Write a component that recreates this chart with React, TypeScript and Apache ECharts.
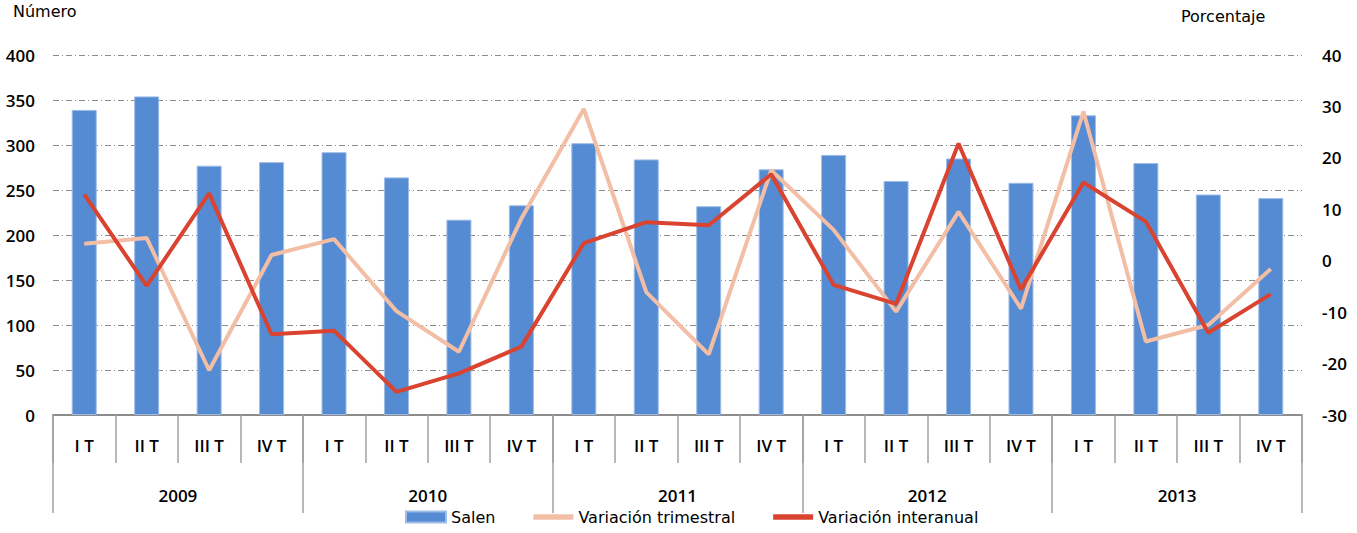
import React, { useEffect, useRef } from "react";
import * as echarts from "echarts";

const quarters = ["I T", "II T", "III T", "IV T", "I T", "II T", "III T", "IV T", "I T", "II T", "III T", "IV T", "I T", "II T", "III T", "IV T", "I T", "II T", "III T", "IV T"];
const years = ["2009", "2010", "2011", "2012", "2013"];
const salen = [339, 354, 277, 281, 292, 264, 217, 233, 302, 284, 232, 273, 289, 260, 285, 258, 333, 280, 245, 241];
const varTrimestral = [3.3, 4.4, -21.3, 1.1, 4.2, -9.8, -17.7, 8.2, 29.5, -6.1, -18.2, 17.6, 6.0, -9.9, 9.5, -9.3, 29.0, -15.7, -12.5, -1.6];
const varInteranual = [12.9, -4.9, 13.1, -14.3, -13.6, -25.5, -21.9, -16.7, 3.4, 7.5, 6.9, 16.8, -4.7, -8.4, 22.8, -5.6, 15.2, 7.6, -14.0, -6.5];

const FONT = "'Open Sans', sans-serif";
const SANS = "'DejaVu Sans', Arial, sans-serif";
const LINE_ICON = "path://M0,0 H42 V6 H0 Z";

export default function App() {
  const ref = useRef<HTMLDivElement>(null);
  useEffect(() => {
    if (!ref.current) return;
    const chart = echarts.init(ref.current, null, { renderer: "svg" });
    const gridLine = { color: "#8c8c8c", width: 1, type: [6, 3, 1, 3] as any };
    const tickLabel = { fontFamily: FONT, fontSize: 17, fontWeight: 600 as any, color: "#000" };
    chart.setOption({
      animation: false,
      grid: { left: 53, right: 55, top: 55, bottom: 118, containLabel: false },
      legend: {
        bottom: 3,
        left: 400,
        itemGap: 38,
        itemWidth: 40,
        itemHeight: 11,
        textStyle: { fontFamily: SANS, fontSize: 16, color: "#000" },
        data: [
          { name: "Salen", icon: "rect" },
          { name: "Variación trimestral", icon: LINE_ICON },
          { name: "Variación interanual", icon: LINE_ICON },
        ],
      },
      xAxis: [
        {
          type: "category",
          data: quarters,
          position: "bottom",
          axisLine: { onZero: false, lineStyle: { color: "#8c8c8c", width: 2 } },
          axisTick: { show: true, interval: 0, length: 48, lineStyle: { color: "#a0a0a0", width: 1.5 } },
          axisLabel: { interval: 0, margin: 22, ...tickLabel },
          splitLine: { show: false },
        },
        {
          type: "category",
          data: years,
          position: "bottom",
          axisLine: { show: false, onZero: false },
          axisTick: { show: true, interval: 0, length: 98, lineStyle: { color: "#a0a0a0", width: 1.5 } },
          axisLabel: { interval: 0, margin: 72, ...tickLabel },
          splitLine: { show: false },
        },
      ],
      yAxis: [
        {
          type: "value",
          min: 0,
          max: 400,
          interval: 50,
          position: "left",
          axisLine: { show: false },
          axisTick: { show: false },
          axisLabel: { margin: 18, ...tickLabel },
          splitLine: { show: true, lineStyle: gridLine },
        },
        {
          type: "value",
          min: -30,
          max: 40,
          interval: 10,
          position: "right",
          axisLine: { show: false },
          axisTick: { show: false },
          axisLabel: { margin: 20, ...tickLabel },
          splitLine: { show: false },
        },
      ],
      graphic: [
        { type: "text", left: 13, top: 3, style: { text: "Número", fontFamily: SANS, fontSize: 16, fill: "#000" } },
        { type: "text", left: 1181, top: 8, style: { text: "Porcentaje", fontFamily: SANS, fontSize: 16, fill: "#000" } },
      ],
      series: [
        {
          name: "Salen",
          type: "bar",
          xAxisIndex: 0,
          yAxisIndex: 0,
          data: salen,
          barWidth: 25,
          itemStyle: { color: "#558bd2", borderColor: "#9dbce6", borderWidth: 1 },
        },
        {
          name: "Variación trimestral",
          type: "line",
          xAxisIndex: 0,
          yAxisIndex: 1,
          data: varTrimestral,
          symbol: "none",
          lineStyle: { color: "#f3bea6", width: 4 },
          itemStyle: { color: "#f3bea6" },
        },
        {
          name: "Variación interanual",
          type: "line",
          xAxisIndex: 0,
          yAxisIndex: 1,
          data: varInteranual,
          symbol: "none",
          lineStyle: { color: "#d9432f", width: 4 },
          itemStyle: { color: "#d9432f" },
        },
      ],
    });
    return () => chart.dispose();
  }, []);
  return (
    <div
      ref={ref}
      style={{ position: "fixed", left: 0, top: 0, width: 1357, height: 533, background: "#fff" }}
    />
  );
}
